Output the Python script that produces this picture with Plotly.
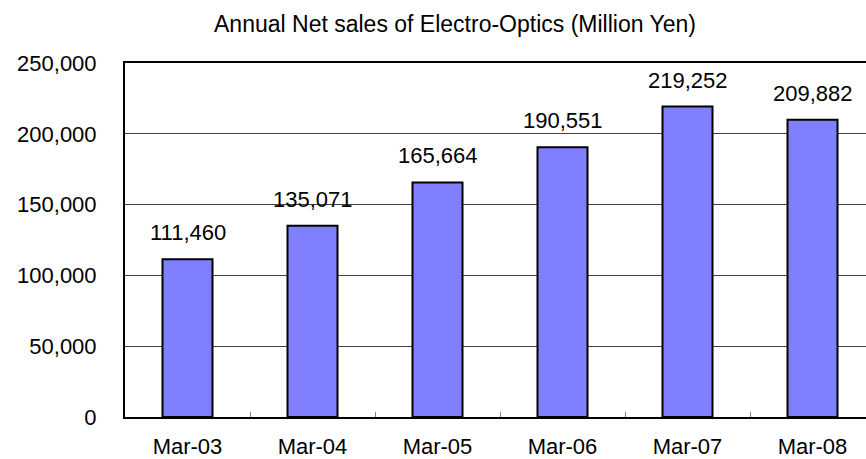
import plotly.graph_objects as go

categories = ["Mar-03", "Mar-04", "Mar-05", "Mar-06", "Mar-07", "Mar-08"]
net_sales = [111460, 135071, 165664, 190551, 219252, 209882]
title_text = "Annual Net sales of Electro-Optics (Million Yen)"

FONT = "Liberation Sans, Arial, sans-serif"

fig = go.Figure()
fig.add_trace(go.Bar(
    x=categories, y=net_sales, width=0.4,
    marker=dict(color="#8080FF", line=dict(color="black", width=2)),
    hoverinfo="x+y",
))

for c, v in zip(categories, net_sales):
    fig.add_annotation(x=c, y=v, text=f"{v:,}", showarrow=False,
                       yanchor="bottom", yshift=12,
                       font=dict(family=FONT, size=22, color="black"))

fig.update_layout(
    width=866, height=459,
    margin=dict(l=125, r=0, t=63, b=42),
    paper_bgcolor="white", plot_bgcolor="white",
    showlegend=False,
    font=dict(family=FONT, size=22, color="black"),
    title=dict(text=title_text, x=455/866, xanchor="center", xref="container",
               y=1-24/459, yanchor="middle", yref="container",
               font=dict(family=FONT, size=23, color="black")),
    bargap=0.6,
)
fig.update_xaxes(
    type="category", range=[-0.5, 5.428], automargin=False,
    showline=True, linecolor="black", linewidth=2, mirror=True,
    showgrid=False, tickson="boundaries", ticks="inside", ticklen=5,
    tickcolor="#808080", tickwidth=1, ticklabelstandoff=9,
    tickfont=dict(family=FONT, size=22, color="black"),
)
fig.update_yaxes(
    range=[0, 250000], dtick=50000, tickformat=",", automargin=False,
    showline=True, linecolor="black", linewidth=2,
    showgrid=True, gridcolor="#404040", gridwidth=1, zeroline=False,
    ticks="", ticklabelstandoff=22,
    tickfont=dict(family=FONT, size=22, color="black"),
)

fig.write_html("out.html", config={"displayModeBar": False},
               post_script="document.body.style.margin='0';document.body.style.overflow='hidden';")
